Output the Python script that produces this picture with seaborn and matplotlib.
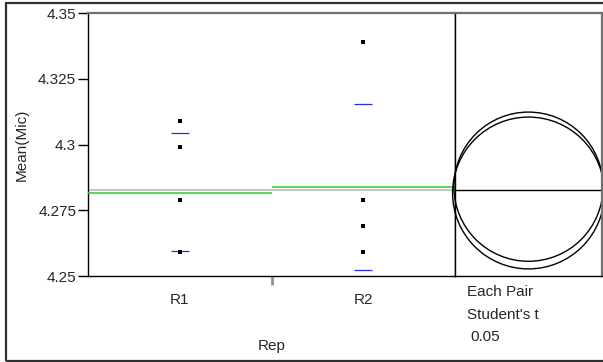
import matplotlib
matplotlib.use("Agg")
import matplotlib.pyplot as plt
from matplotlib.patches import Circle, Rectangle
import numpy as np
import pandas as pd
import seaborn as sns

# Observations per replicate
reps = ["R1", "R2"]
r1_values = [4.309, 4.299, 4.279, 4.259]
r2_values = [4.339, 4.279, 4.269, 4.259]

# Summary lines
group_means = [4.2816, 4.2840]
grand_mean = 4.2827
upper_marks = [4.3043, 4.3154]
lower_marks = [4.2594, 4.2523]
circle_radii = [0.0289, 0.0284]

y_ticks = [4.25, 4.275, 4.3, 4.325, 4.35]
y_tick_labels = ["4.25", "4.275", "4.3", "4.325", "4.35"]
test_lines = ["Each Pair", "Student's t", "0.05"]

df = pd.DataFrame({
    "Rep": ["R1"] * len(r1_values) + ["R2"] * len(r2_values),
    "Mean(Mic)": r1_values + r2_values,
})

sns.set_theme(style="white")
plt.rcParams["font.family"] = ["Liberation Sans", "DejaVu Sans"]

W, H = 603, 362
fig = plt.figure(figsize=(W / 100, H / 100), dpi=100)

left, right_main, right_all = 88, 455, 602
top, bottom = 13.3, 276
ax = fig.add_axes([left / W, 1 - bottom / H, (right_main - left) / W, (bottom - top) / H])
ax2 = fig.add_axes([right_main / W, 1 - bottom / H, (right_all - right_main) / W, (bottom - top) / H],
                   sharey=ax)

sns.stripplot(data=df, x="Rep", y="Mean(Mic)", order=reps, jitter=False,
              marker="s", size=3.2, color="black", linewidth=0, ax=ax, zorder=5)

ax.set_xlim(-0.5, 1.5)
ax.set_ylim(4.25, 4.35)

# grand mean across the whole frame
ax.axhline(grand_mean, color="#b4b4b4", lw=1.1, zorder=2)
for i in range(len(reps)):
    ax.hlines(group_means[i], i - 0.5, i + 0.5, color="#2ecc2e", lw=1.1, zorder=3)
    for v in (upper_marks[i], lower_marks[i]):
        ax.hlines(v, i - 0.05, i + 0.05, color="#2a2aee", lw=0.9, zorder=4)

ax.set_yticks(y_ticks)
ax.set_yticklabels(y_tick_labels)
ax.set_xticks(range(len(reps)))
ax.set_xticklabels(reps)
ax.set_xticks([0.5], minor=True)
ax.tick_params(axis="y", which="major", direction="out", length=7.5, width=1.0,
               color="black", labelsize=11, pad=1, left=True)
ax.tick_params(axis="x", which="major", length=0, labelsize=11, pad=12)
ax.tick_params(axis="x", which="minor", direction="out", length=6.5, width=2.0,
               color="#909090", bottom=True)
ax.set_ylabel("Mean(Mic)", fontsize=11, labelpad=7)
ax.set_xlabel("Rep", fontsize=11, labelpad=23)

for s in ("left", "bottom", "right"):
    ax.spines[s].set_color("black")
    ax.spines[s].set_linewidth(1.0)
ax.spines["top"].set_color("#707070")
ax.spines["top"].set_linewidth(1.6)

# comparison circles panel
fig.canvas.draw()
bb = ax2.get_window_extent()
yrange = 0.1
xspan = bb.width / bb.height * yrange
ax2.set_xlim(0, xspan)
ax2.set_facecolor("white")
ax2.tick_params(left=False, labelleft=False, bottom=False, labelbottom=False)
for s in ("left", "bottom"):
    ax2.spines[s].set_color("black")
    ax2.spines[s].set_linewidth(1.0)
for s in ("top", "right"):
    ax2.spines[s].set_color("#707070")
    ax2.spines[s].set_linewidth(1.6)
ax2.axhline(grand_mean, color="black", lw=1.0)
cx = xspan / 2
for m, r in zip(group_means, circle_radii):
    ax2.add_patch(Circle((cx, m), r, fill=False, edgecolor="black", lw=1.0, clip_on=False))

text_y = [291.7, 315, 337]
text_x = [467, 467, 470]
for t, x, y in zip(test_lines, text_x, text_y):
    fig.text(x / W, 1 - y / H, t, fontsize=11, ha="left", va="center")

# outer frame (right side runs past the canvas edge)
fig.patches.append(Rectangle((6 / W, 1 - 360.5 / H), 1.2, (358 / H), transform=fig.transFigure,
                             fill=False, edgecolor="#303030", lw=1.6, clip_on=False))

fig.savefig("out.png", dpi=100)
